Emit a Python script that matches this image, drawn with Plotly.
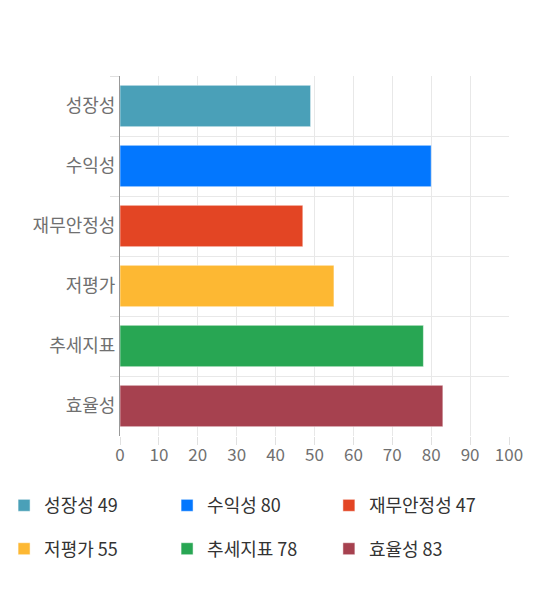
import plotly.graph_objects as go

categories = ["성장성", "수익성", "재무안정성", "저평가", "추세지표", "효율성"]
scores = [49, 80, 47, 55, 78, 83]
colors = ["#4aa0b8", "#0377fe", "#e34524", "#fdb833", "#28a653", "#a6414f"]
x_ticks = list(range(0, 101, 10))

# legend columns: 1st/4th, 2nd/5th, 3rd/6th entries stacked
legend_names = ["legend", "legend2", "legend3"]

fig = go.Figure()

for i, (cat, val, col) in enumerate(zip(categories, scores, colors)):
    fig.add_trace(go.Bar(
        y=[cat], x=[val], orientation="h",
        name=f"{cat} {val}",
        marker=dict(color=col, line=dict(color="rgba(255,255,255,0.5)", width=1)),
        legend=legend_names[i % 3],
        legendgroup=f"g{i}",
        hoverinfo="x+y",
    ))

legend_style = dict(
    orientation="v",
    xanchor="left", yanchor="top", y=-0.142,
    font=dict(family="Noto Sans CJK KR", size=18, color="#333333"),
    itemwidth=30,
    tracegroupgap=17,
    bgcolor="rgba(0,0,0,0)",
)

fig.update_layout(
    width=540, height=590,
    margin=dict(l=112, r=39, t=68, b=162, autoexpand=False),
    paper_bgcolor="white", plot_bgcolor="white",
    barmode="relative",
    bargap=0.31,
    font=dict(family="Noto Sans CJK KR", color="#666666"),
    legend=dict(x=-0.298, **legend_style),
    legend2=dict(x=0.121, **legend_style),
    legend3=dict(x=0.537, **legend_style),
    xaxis=dict(
        range=[0, 100], tickvals=x_ticks,
        showgrid=True, gridcolor="#e8e8e8", gridwidth=1,
        zeroline=False, showline=False,
        ticks="outside", ticklen=8, tickcolor="#e0e0e0",
        ticklabelstandoff=-4,
        tickfont=dict(size=17, color="#707070"),
        fixedrange=True,
    ),
    yaxis=dict(
        categoryorder="array", categoryarray=categories,
        autorange="reversed",
        tickson="boundaries",
        showgrid=True, gridcolor="#e8e8e8", gridwidth=1,
        ticks="outside", ticklen=9, tickcolor="#e0e0e0",
        showline=True, linecolor="#999999", linewidth=1,
        tickfont=dict(size=18, color="#707070"),
        fixedrange=True,
    ),
)

fig.write_html("out.html")
